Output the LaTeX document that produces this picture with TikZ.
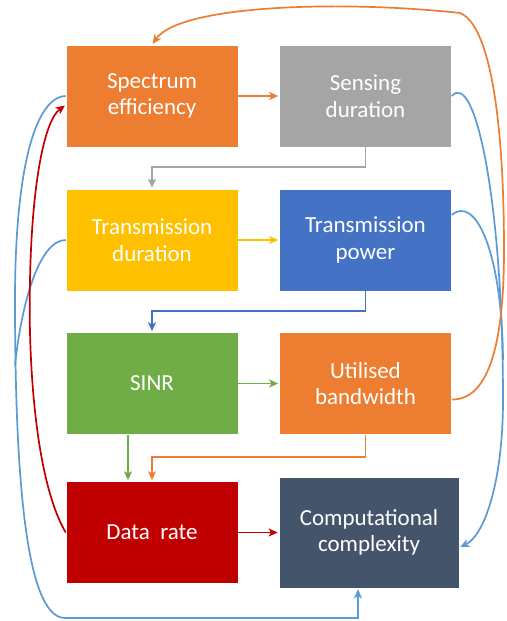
\documentclass[tikz,border=0pt]{standalone}
\usepackage{fontspec}
\setmainfont{Carlito}
\usetikzlibrary{arrows.meta,calc}
\definecolor{cOrange}{HTML}{ED7D31}
\definecolor{cGray}{HTML}{A5A5A5}
\definecolor{cYellow}{HTML}{FFC000}
\definecolor{cBlue}{HTML}{4472C4}
\definecolor{cGreen}{HTML}{70AD47}
\definecolor{cRed}{HTML}{C00000}
\definecolor{cSlate}{HTML}{44546A}
\definecolor{cLblue}{HTML}{5B9BD5}
\begin{document}
\begin{tikzpicture}[x=1pt,y=-1pt,
  box/.style={rectangle, draw=white, line width=0.6pt, text=white, align=center,
    font=\fontsize{23}{26.5}\selectfont, inner sep=0pt,
    minimum width=172pt, minimum height=102pt},
  wire/.style={line width=1.7pt},
  conn/.style={wire, -{Stealth[length=9pt,width=8pt,inset=2.2pt]}, shorten >=1pt},
]
\useasboundingbox (0,0) rectangle (506,621);
\fill[white] (0,0) rectangle (506,621);

\node[box, fill=cOrange] (sp) at (152,96) {Spectrum\\efficiency};
\node[box, fill=cGray] (sd) at (365.5,96) {Sensing\\duration};
\node[box, fill=cYellow] (td) at (152,240) {Transmission\\duration};
\node[box, fill=cBlue] (tp) at (365.5,240) {Transmission\\power};
\node[box, fill=cGreen] (si) at (152,383.5) {SINR};
\node[box, fill=cOrange] (ub) at (365.5,383.5) {Utilised\\bandwidth};
\node[box, fill=cRed] (dr) at (152,532.5) {Data\ \ rate};
\node[box, fill=cSlate, minimum width=180pt, minimum height=111pt] (cc) at (369,532.5) {Computational\\complexity};

% straight connectors
\draw[conn, cOrange] (sp) -- (sd);
\draw[conn, cYellow] (td) -- (tp);
\draw[conn, cGreen] (si) -- (ub);
\draw[conn, cRed] (dr) -- (cc);
\draw[conn, cGray] (sd.south) -- ([yshift=-20pt]sd.south) -| (td.north);
\draw[conn, cBlue] (tp.south) -- ([yshift=-20pt]tp.south) -| (si.north);
\draw[conn, cOrange] (ub.south) -- ([yshift=-22pt]ub.south) -| (dr.north);
\draw[conn, cGreen] ([xshift=-24pt]si.south) -- ([xshift=-24pt]dr.north);

% left curves
\coordinate (ccb) at ($(cc.south)+(-11,0)$);
\draw[conn, cLblue] (sp.west) .. controls (35,97) and (15,170) .. (15,300)
  .. controls (15,470) and (25,618) .. (65,618) -| (ccb);
\draw[wire, cLblue] (td.west) .. controls (40,240) and (22,300) .. (15,365);
\draw[conn, cRed] (dr.west) .. controls (35,480) and (28,360) .. (30,280)
  .. controls (32,180) and (45,120) .. ($(sp.west)+(0,9)$);

% right curves
\coordinate (mR) at (503,400);
\draw[wire, cLblue] (sd.east) .. controls (475,70) and (503,200) .. (mR);
\draw[wire, cLblue] ($(tp.east)+(0,-25)$) .. controls (475,195) and (502,250) .. (503,360);
\draw[conn, cLblue] (mR) .. controls (503,480) and (485,535) .. ($(cc.east)+(0,15)$);
\draw[conn, cOrange] ($(ub.east)+(0,16)$) .. controls (490,400) and (504,340) .. (504,250)
  .. controls (504,120) and (490,25) .. (460,13)
  .. controls (340,0) and (180,5) .. (sp.north);
\end{tikzpicture}
\end{document}
